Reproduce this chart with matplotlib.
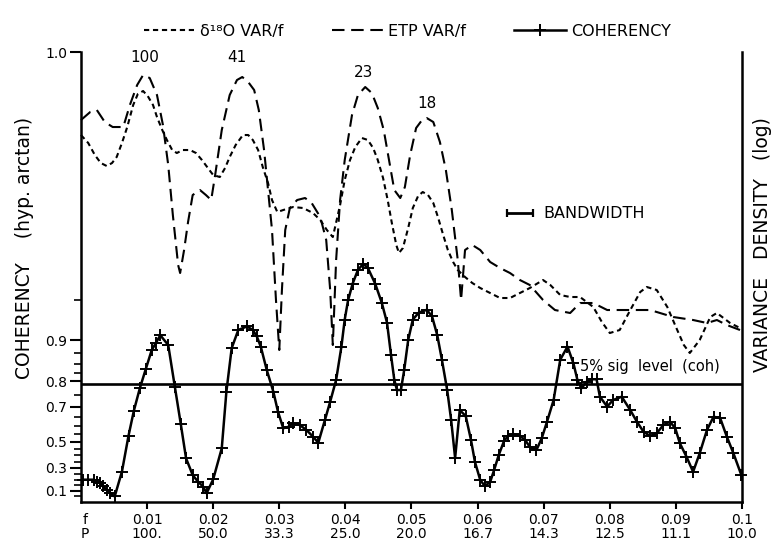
import numpy as np
import matplotlib
matplotlib.use("Agg")
import matplotlib.pyplot as plt
import matplotlib.transforms as mtransforms
from matplotlib.lines import Line2D

# Coherency
coh_freq = [0.0003, 0.0011, 0.0019, 0.0024, 0.0029, 0.0034, 0.0039, 0.0044, 0.0051, 0.0062,
            0.0072, 0.0080, 0.0089, 0.0098, 0.0107, 0.0113, 0.0120, 0.0132, 0.0142, 0.0151,
            0.0159, 0.0169, 0.0177, 0.0185, 0.0190, 0.0200, 0.0213, 0.0220, 0.0228, 0.0238,
            0.0251, 0.0260, 0.0266, 0.0272, 0.0281, 0.0291, 0.0298, 0.0306, 0.0314, 0.0321,
            0.0331, 0.0341, 0.0351, 0.0359, 0.0369, 0.0377, 0.0386, 0.0394, 0.0399, 0.0404,
            0.0411, 0.0419, 0.0427, 0.0434, 0.0445, 0.0455, 0.0463, 0.0469, 0.0474, 0.0478,
            0.0484, 0.0489, 0.0495, 0.0502, 0.0511, 0.0523, 0.0531, 0.0539, 0.0546, 0.0554,
            0.0560, 0.0566, 0.0573, 0.0582, 0.0590, 0.0596, 0.0604, 0.0611, 0.0619, 0.0625,
            0.0632, 0.0640, 0.0646, 0.0654, 0.0664, 0.0672, 0.0679, 0.0689, 0.0697, 0.0705,
            0.0715, 0.0725, 0.0736, 0.0745, 0.0751, 0.0757, 0.0765, 0.0773, 0.0780, 0.0785,
            0.0796, 0.0805, 0.0818, 0.0831, 0.0841, 0.0851, 0.0861, 0.0871, 0.0881, 0.0891,
            0.0899, 0.0906, 0.0916, 0.0926, 0.0936, 0.0947, 0.0957, 0.0967, 0.0977, 0.0987, 0.0999]
coh_value = [0.20, 0.20, 0.20, 0.18, 0.17, 0.14, 0.11, 0.085, 0.05, 0.27,
             0.54, 0.68, 0.775, 0.836, 0.881, 0.894, 0.908, 0.891, 0.781, 0.61,
             0.377, 0.24, 0.183, 0.138, 0.079, 0.203, 0.453, 0.763, 0.885, 0.916,
             0.921, 0.916, 0.906, 0.888, 0.834, 0.763, 0.676, 0.585, 0.594, 0.614,
             0.604, 0.575, 0.533, 0.492, 0.632, 0.722, 0.804, 0.888, 0.930, 0.950,
             0.963, 0.971, 0.974, 0.972, 0.963, 0.948, 0.926, 0.871, 0.804, 0.769,
             0.769, 0.834, 0.90, 0.93, 0.938, 0.941, 0.934, 0.908, 0.86, 0.769,
             0.632, 0.38, 0.683, 0.654, 0.511, 0.349, 0.197, 0.144, 0.18, 0.283,
             0.403, 0.504, 0.537, 0.55, 0.537, 0.511, 0.462, 0.44, 0.522, 0.623,
             0.729, 0.86, 0.888, 0.851, 0.804, 0.775, 0.798, 0.806, 0.806, 0.743,
             0.70, 0.729, 0.743, 0.683, 0.623, 0.564, 0.537, 0.555, 0.604, 0.623,
             0.585, 0.488, 0.39, 0.268, 0.416, 0.575, 0.65, 0.642, 0.533, 0.416, 0.24]

# ETP variance / f (log units, arbitrary origin)
etp_freq = [0.0000, 0.0014, 0.0024, 0.0036, 0.0048, 0.0064, 0.0074, 0.0085, 0.0094, 0.0104,
            0.0115, 0.0124, 0.0132, 0.0139, 0.0147, 0.0150, 0.0156, 0.0162, 0.0169, 0.0180,
            0.0189, 0.0197, 0.0203, 0.0213, 0.0225, 0.0236, 0.0244, 0.0253, 0.0262, 0.0269,
            0.0277, 0.0283, 0.0289, 0.0295, 0.0300, 0.0304, 0.0309, 0.0316, 0.0327, 0.0339,
            0.0349, 0.0362, 0.0371, 0.0377, 0.0381, 0.0386, 0.0392, 0.0399, 0.0410, 0.0419,
            0.0430, 0.0440, 0.0449, 0.0458, 0.0466, 0.0474, 0.0483, 0.0490, 0.0498, 0.0507,
            0.0516, 0.0523, 0.0533, 0.0543, 0.0552, 0.0561, 0.0570, 0.0575, 0.0581, 0.0592,
            0.0604, 0.0619, 0.0634, 0.0649, 0.0664, 0.0679, 0.0699, 0.0717, 0.0740, 0.0755,
            0.0775, 0.0796, 0.0826, 0.0861, 0.0896, 0.0926, 0.0947, 0.0962, 0.0977, 0.0997]
etp_logvar = [3.82, 3.90, 3.92, 3.80, 3.75, 3.75, 3.97, 4.17, 4.27, 4.24,
              4.07, 3.77, 3.37, 2.87, 2.37, 2.29, 2.52, 2.80, 3.07, 3.12,
              3.07, 3.02, 3.27, 3.72, 4.07, 4.22, 4.25, 4.20, 4.12, 3.92,
              3.52, 3.12, 2.72, 2.02, 1.52, 2.12, 2.72, 2.94, 3.02, 3.04,
              2.99, 2.85, 2.62, 2.12, 1.57, 2.42, 3.02, 3.42, 3.87, 4.07,
              4.15, 4.09, 3.94, 3.72, 3.42, 3.12, 3.04, 3.15, 3.47, 3.74,
              3.82, 3.84, 3.80, 3.60, 3.32, 2.92, 2.42, 2.02, 2.52, 2.57,
              2.52, 2.40, 2.34, 2.29, 2.22, 2.17, 2.02, 1.92, 1.89, 1.99,
              1.99, 1.92, 1.92, 1.92, 1.85, 1.82, 1.79, 1.82, 1.77, 1.72]

# d18O variance / f (log units, arbitrary origin)
d18o_freq = [0.0000, 0.0011, 0.0021, 0.0030, 0.0039, 0.0047, 0.0054, 0.0062, 0.0070, 0.0079,
             0.0086, 0.0094, 0.0101, 0.0109, 0.0115, 0.0123, 0.0130, 0.0138, 0.0145, 0.0154,
             0.0165, 0.0174, 0.0183, 0.0192, 0.0200, 0.0210, 0.0218, 0.0225, 0.0234, 0.0245,
             0.0253, 0.0260, 0.0268, 0.0275, 0.0283, 0.0289, 0.0297, 0.0306, 0.0321, 0.0336,
             0.0351, 0.0362, 0.0372, 0.0381, 0.0392, 0.0399, 0.0407, 0.0415, 0.0425, 0.0434,
             0.0442, 0.0449, 0.0457, 0.0464, 0.0470, 0.0477, 0.0481, 0.0487, 0.0495, 0.0502,
             0.0510, 0.0517, 0.0525, 0.0533, 0.0540, 0.0548, 0.0555, 0.0563, 0.0570, 0.0581,
             0.0592, 0.0604, 0.0619, 0.0634, 0.0649, 0.0664, 0.0679, 0.0699, 0.0710, 0.0725,
             0.0740, 0.0755, 0.0775, 0.0788, 0.0800, 0.0815, 0.0831, 0.0846, 0.0856, 0.0871,
             0.0887, 0.0902, 0.0912, 0.0921, 0.0936, 0.0952, 0.0962, 0.0982, 0.0997]
d18o_logvar = [3.67, 3.59, 3.47, 3.39, 3.36, 3.39, 3.45, 3.59, 3.75, 3.97,
               4.08, 4.11, 4.06, 3.97, 3.85, 3.72, 3.62, 3.52, 3.49, 3.52,
               3.52, 3.49, 3.42, 3.34, 3.27, 3.25, 3.34, 3.45, 3.57, 3.67,
               3.67, 3.62, 3.52, 3.35, 3.19, 3.02, 2.90, 2.92, 2.95, 2.94,
               2.89, 2.82, 2.72, 2.65, 2.97, 3.22, 3.42, 3.55, 3.64, 3.62,
               3.54, 3.42, 3.24, 3.02, 2.80, 2.57, 2.49, 2.54, 2.74, 2.94,
               3.06, 3.10, 3.07, 2.99, 2.85, 2.67, 2.52, 2.40, 2.32, 2.25,
               2.19, 2.14, 2.09, 2.04, 2.04, 2.09, 2.14, 2.22, 2.17, 2.07,
               2.05, 2.05, 1.95, 1.80, 1.69, 1.72, 1.92, 2.10, 2.15, 2.12,
               1.95, 1.72, 1.57, 1.49, 1.62, 1.85, 1.89, 1.79, 1.74]

freq_ticks = [0.01, 0.02, 0.03, 0.04, 0.05, 0.06, 0.07, 0.08, 0.09, 0.1]
freq_labels = ["0.01", "0.02", "0.03", "0.04", "0.05", "0.06", "0.07", "0.08", "0.09", "0.1"]
period_labels = ["100.", "50.0", "33.3", "25.0", "20.0", "16.7", "14.3", "12.5", "11.1", "10.0"]

coh_ticks = [0.1, 0.3, 0.5, 0.7, 0.8, 0.9]
coh_minor = [0.05, 0.15, 0.2, 0.25, 0.35, 0.4, 0.45, 0.55, 0.6, 0.65, 0.75,
             0.825, 0.85, 0.875, 0.95]
sig_level = 0.79
bandwidth = 0.004

peak_names = ["100", "41", "23", "18"]
peak_freq = [0.0097, 0.0236, 0.0427, 0.0523]
peak_label_y = [4.45, 4.45, 4.30, 3.99]

Z_TOP = 4.09       # top of the arctanh axis
LOGVAR_TOP = 4.5   # top of the variance axis
SHORT_DASH = (0, (2.5, 1.8))
LONG_DASH = (0, (6, 3.2))


def fwd(c):
    return np.arctanh(np.clip(c, 0.0, 0.999999))


def inv(z):
    return np.tanh(z)


fig = plt.figure(figsize=(7.8, 5.43), dpi=100)
ax = fig.add_axes([0.1038, 0.0755, 0.8475, 0.8287])
ax.set_yscale("function", functions=(fwd, inv))
c_top = np.tanh(Z_TOP)
ax.set_xlim(0, 0.1)
ax.set_ylim(0, c_top)

# coherency with + marks and the 5% line
ax.plot(coh_freq, coh_value, "-", color="black", lw=1.8,
        marker="+", ms=8, mew=1.4, clip_on=False, zorder=4)
ax.axhline(sig_level, color="black", lw=1.9)
ax.text(0.0755, 0.842, "5% sig  level  (coh)", fontsize=10.5,
        ha="left", va="center")

# spectra on a second (log variance) axis
ax2 = ax.twinx()
ax2.set_ylim(0, LOGVAR_TOP)
ax2.plot(d18o_freq, d18o_logvar, color="black", lw=1.5,
         linestyle=SHORT_DASH, clip_on=False)
ax2.plot(etp_freq, etp_logvar, color="black", lw=1.5,
         linestyle=LONG_DASH, clip_on=False)
for name, f, y in zip(peak_names, peak_freq, peak_label_y):
    ax2.text(f, y, name, ha="center", va="center", fontsize=11)
ax2.errorbar(0.0664, 2.89, xerr=bandwidth / 2, fmt="none", ecolor="black",
             elinewidth=2.0, capsize=3, capthick=1.6)
ax2.text(0.0699, 2.89, "BANDWIDTH", ha="left", va="center", fontsize=11.5)
ax2.set_yticks([])
for s in ax2.spines.values():
    s.set_visible(False)

# axes styling
for side in ("left", "bottom", "right"):
    ax.spines[side].set_linewidth(1.8)
ax.spines["top"].set_visible(False)

ax.set_xticks(freq_ticks)
ax.set_xticklabels([f"{a}\n{b}" for a, b in zip(freq_labels, period_labels)],
                   linespacing=1.0)
ax.tick_params(axis="x", direction="out", length=5, width=1.5,
               labelsize=10, pad=3)
ax.set_yticks(coh_ticks + [c_top])
ax.set_yticklabels([str(t) for t in coh_ticks] + ["1.0"])
ax.set_yticks(coh_minor, minor=True)
ax.yaxis.set_minor_formatter(plt.NullFormatter())
ax.tick_params(axis="y", which="major", direction="out", length=8,
               width=1.5, labelsize=10, pad=2)
ax.tick_params(axis="y", which="minor", direction="out", length=5, width=1.2)

trans = mtransforms.offset_copy(ax.get_xaxis_transform(), fig=fig,
                                y=-8, units="points")
ax.text(0.0006, 0, "f\nP", transform=trans, ha="center", va="top",
        fontsize=10, linespacing=1.0)

fig.text(25 / 780, 1 - 248 / 543, "COHERENCY    (hyp. arctan)", rotation=90,
         ha="center", va="center", fontsize=13.5)
fig.text(763 / 780, 1 - 245 / 543, "VARIANCE   DENSITY   (log)", rotation=90,
         ha="center", va="center", fontsize=13.5)

# legend across the top
handles = [
    Line2D([], [], color="black", lw=1.5, linestyle=SHORT_DASH),
    Line2D([], [], color="black", lw=1.5, linestyle=LONG_DASH),
    Line2D([], [], color="black", lw=1.8, marker="+", ms=8, mew=1.4,
           markevery=[0, 1, 2, 3]),
]
labels = ["δ¹⁸O VAR/f", "ETP VAR/f", "COHERENCY"]
fig.legend(handles, labels, loc="center", bbox_to_anchor=(0.522, 0.942),
           ncol=3, frameon=False, fontsize=11.5, handlelength=3.25,
           handletextpad=0.3, columnspacing=3.0)

fig.savefig("out.png", dpi=100)
